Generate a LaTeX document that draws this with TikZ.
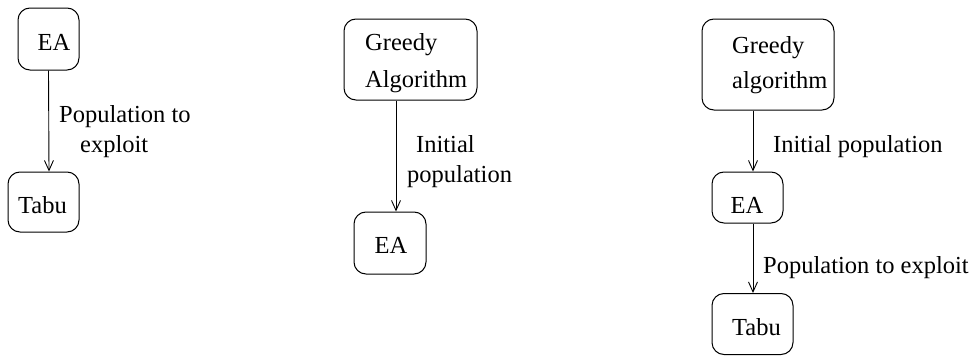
\documentclass[tikz,border=0pt]{standalone}
\usepackage{fontspec}
\setmainfont{Liberation Serif}
\usetikzlibrary{arrows.meta}
\begin{document}
\begin{tikzpicture}[x=1pt,y=-1pt,
  box/.style={draw, line width=1pt, rounded corners=12pt, inner sep=0pt},
  txt/.style={inner sep=0pt, font=\fontsize{24.5}{30}\selectfont},
  arr/.style={draw, line width=0.9pt, -{Straight Barb[length=10pt,width=9pt]}}]
\useasboundingbox (0,0) rectangle (970,356);
% diagram 1
\node[box, minimum width=61pt, minimum height=62pt] (A1) at (48.5,39) {};
\node[txt, anchor=base] (A1t) at (54,50) {EA};
\node[box, minimum width=71pt, minimum height=60pt] (T1) at (43.5,202) {};
\node[txt, anchor=base] (T1t) at (42.5,213) {Tabu};
\draw[arr] (A1.south) -- ([xshift=5.5pt]T1.north);
\node[txt, anchor=base west] (L1a) at (59,122) {Population to};
\node[txt, anchor=base west] (L1b) at (80,152) {exploit};
% diagram 2
\node[box, minimum width=133pt, minimum height=81pt] (G2) at (410.5,59.5) {};
\node[txt, anchor=base west] (G2a) at (365,50) {Greedy};
\node[txt, anchor=base west] (G2b) at (365,87) {Algorithm};
\node[box, minimum width=72pt, minimum height=62pt] (E2) at (390,243) {};
\node[txt, anchor=base] (E2t) at (391,253) {EA};
\draw[arr] ([xshift=-14.5pt]G2.south) -- ([xshift=6pt]E2.north);
\node[txt, anchor=base west] (L2a) at (416,152) {Initial};
\node[txt, anchor=base west] (L2b) at (407,182) {population};
% diagram 3
\node[box, minimum width=132pt, minimum height=91pt] (G3) at (768,64.5) {};
\node[txt, anchor=base west] (G3a) at (732,53) {Greedy};
\node[txt, anchor=base west] (G3b) at (732,88) {algorithm};
\node[box, minimum width=71pt, minimum height=51pt] (E3) at (747.5,197.5) {};
\node[txt, anchor=base] (E3t) at (747,213) {EA};
\node[box, minimum width=81pt, minimum height=61pt] (T3) at (752.5,324) {};
\node[txt, anchor=base] (T3t) at (756.5,335) {Tabu};
\draw[arr] ([xshift=-15pt]G3.south) -- ([xshift=5.5pt]E3.north);
\draw[arr] ([xshift=5.5pt]E3.south) -- ([xshift=0.5pt]T3.north);
\node[txt, anchor=base west] (L3a) at (773,152) {Initial population};
\node[txt, anchor=base west] (L3b) at (763,273) {Population to exploit};
\end{tikzpicture}
\end{document}
